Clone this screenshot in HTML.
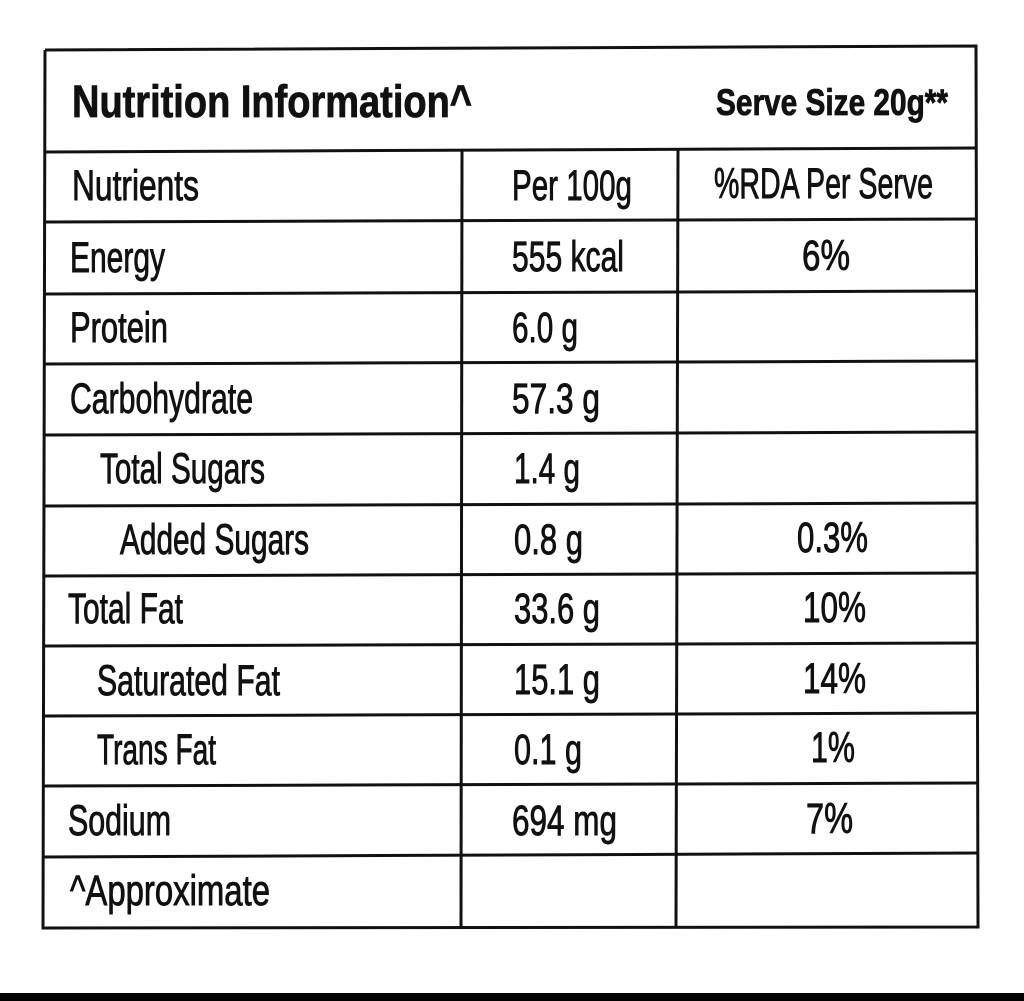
<!DOCTYPE html>
<html><head><style>html,body{margin:0;padding:0;background:#fff}svg{display:block}</style></head>
<body>
<svg width="1024" height="1001" viewBox="0 0 1024 1001" xmlns="http://www.w3.org/2000/svg" font-family="Liberation Sans, sans-serif" fill="#111">
<rect width="1024" height="1001" fill="#fff"/>
<g stroke="#111" stroke-width="3" fill="none">
<polyline points="45,50 976,46 978,927 43,928 45,50"/>
<line x1="45" y1="152" x2="976" y2="148"/>
<line x1="45" y1="222" x2="977" y2="219"/>
<line x1="44" y1="294" x2="977" y2="291"/>
<line x1="44" y1="364" x2="977" y2="361"/>
<line x1="44" y1="435" x2="977" y2="432"/>
<line x1="44" y1="506" x2="977" y2="503"/>
<line x1="44" y1="576" x2="977" y2="573"/>
<line x1="44" y1="646" x2="978" y2="643"/>
<line x1="43" y1="716" x2="978" y2="713"/>
<line x1="43" y1="786" x2="978" y2="783"/>
<line x1="43" y1="857" x2="978" y2="853"/>
<line x1="462" y1="151" x2="461" y2="928"/>
<line x1="678" y1="150" x2="676" y2="927"/>
</g>
<rect x="0" y="993" width="1024" height="8" fill="#000"/>
<g font-weight="bold" stroke="#111" stroke-width="0.8">
<text x="72" y="117" font-size="45" textLength="400" lengthAdjust="spacingAndGlyphs">Nutrition Information^</text>
<text x="716" y="115" font-size="37" textLength="232" lengthAdjust="spacingAndGlyphs">Serve Size 20g**</text>
</g>
<g font-size="43" stroke="#111" stroke-width="0.9">
<text x="72" y="200" textLength="127" lengthAdjust="spacingAndGlyphs">Nutrients</text>
<text x="512" y="200" textLength="120" lengthAdjust="spacingAndGlyphs">Per 100g</text>
<text x="714" y="198" textLength="219" lengthAdjust="spacingAndGlyphs">%RDA Per Serve</text>

<text x="70" y="272" textLength="95" lengthAdjust="spacingAndGlyphs">Energy</text>
<text x="512" y="271" textLength="112" lengthAdjust="spacingAndGlyphs">555 kcal</text>
<text x="802" y="270" textLength="48" lengthAdjust="spacingAndGlyphs">6%</text>

<text x="70" y="342" textLength="98" lengthAdjust="spacingAndGlyphs">Protein</text>
<text x="512" y="342" textLength="66" lengthAdjust="spacingAndGlyphs">6.0 g</text>

<text x="70" y="413" textLength="183" lengthAdjust="spacingAndGlyphs">Carbohydrate</text>
<text x="512" y="413" textLength="88" lengthAdjust="spacingAndGlyphs">57.3 g</text>

<text x="100" y="483" textLength="165" lengthAdjust="spacingAndGlyphs">Total Sugars</text>
<text x="514" y="483" textLength="66" lengthAdjust="spacingAndGlyphs">1.4 g</text>

<text x="120" y="554" textLength="189" lengthAdjust="spacingAndGlyphs">Added Sugars</text>
<text x="514" y="554" textLength="69" lengthAdjust="spacingAndGlyphs">0.8 g</text>
<text x="797" y="552" textLength="71" lengthAdjust="spacingAndGlyphs">0.3%</text>

<text x="68" y="623" textLength="115" lengthAdjust="spacingAndGlyphs">Total Fat</text>
<text x="514" y="623" textLength="86" lengthAdjust="spacingAndGlyphs">33.6 g</text>
<text x="803" y="622" textLength="63" lengthAdjust="spacingAndGlyphs">10%</text>

<text x="97" y="695" textLength="183" lengthAdjust="spacingAndGlyphs">Saturated Fat</text>
<text x="514" y="694" textLength="86" lengthAdjust="spacingAndGlyphs">15.1 g</text>
<text x="803" y="693" textLength="63" lengthAdjust="spacingAndGlyphs">14%</text>

<text x="97" y="764" textLength="119" lengthAdjust="spacingAndGlyphs">Trans Fat</text>
<text x="514" y="764" textLength="68" lengthAdjust="spacingAndGlyphs">0.1 g</text>
<text x="811" y="762" textLength="44" lengthAdjust="spacingAndGlyphs">1%</text>

<text x="68" y="835" textLength="103" lengthAdjust="spacingAndGlyphs">Sodium</text>
<text x="512" y="835" textLength="105" lengthAdjust="spacingAndGlyphs">694 mg</text>
<text x="806" y="833" textLength="47" lengthAdjust="spacingAndGlyphs">7%</text>

<text x="70" y="905" textLength="200" lengthAdjust="spacingAndGlyphs">^Approximate</text>
</g>
</svg>
</body></html>
